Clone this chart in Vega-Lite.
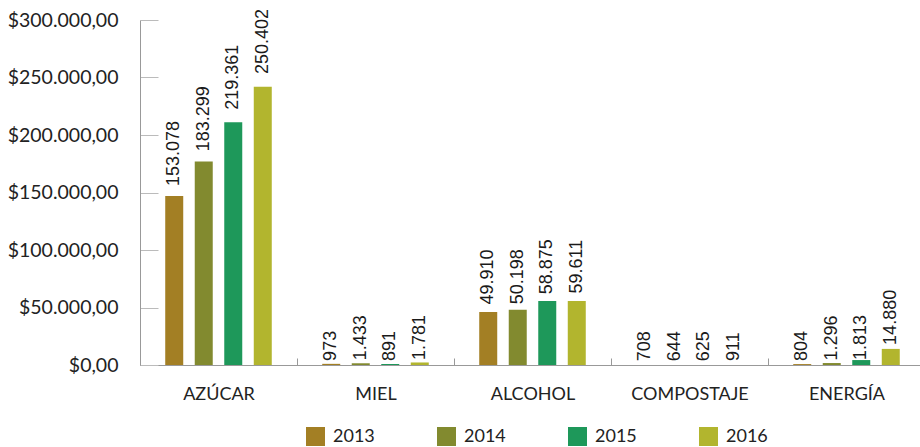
{
  "$schema": "https://vega.github.io/schema/vega-lite/v6.json",
  "width": 785,
  "height": 345,
  "autosize": {"type": "none"},
  "padding": {"left": 140, "top": 20, "right": 0, "bottom": 82},
  "background": "white",
  "config": {
    "locale": {"number": {"decimal": ",", "thousands": ".", "grouping": [3], "currency": ["$", ""]}},
    "view": {"stroke": null}
  },
  "data": {"values": [
    {"cat": "AZÚCAR", "year": "2013", "value": 147000, "label": 153078},
    {"cat": "AZÚCAR", "year": "2014", "value": 177000, "label": 183299},
    {"cat": "AZÚCAR", "year": "2015", "value": 211000, "label": 219361},
    {"cat": "AZÚCAR", "year": "2016", "value": 242000, "label": 250402},
    {"cat": "MIEL", "year": "2013", "value": 1000, "label": 973},
    {"cat": "MIEL", "year": "2014", "value": 1500, "label": 1433},
    {"cat": "MIEL", "year": "2015", "value": 900, "label": 891},
    {"cat": "MIEL", "year": "2016", "value": 2200, "label": 1781},
    {"cat": "ALCOHOL", "year": "2013", "value": 46000, "label": 49910},
    {"cat": "ALCOHOL", "year": "2014", "value": 48000, "label": 50198},
    {"cat": "ALCOHOL", "year": "2015", "value": 55600, "label": 58875},
    {"cat": "ALCOHOL", "year": "2016", "value": 55600, "label": 59611},
    {"cat": "COMPOSTAJE", "year": "2013", "value": 0, "label": 708},
    {"cat": "COMPOSTAJE", "year": "2014", "value": 0, "label": 644},
    {"cat": "COMPOSTAJE", "year": "2015", "value": 0, "label": 625},
    {"cat": "COMPOSTAJE", "year": "2016", "value": 0, "label": 911},
    {"cat": "ENERGÍA", "year": "2013", "value": 800, "label": 804},
    {"cat": "ENERGÍA", "year": "2014", "value": 1700, "label": 1296},
    {"cat": "ENERGÍA", "year": "2015", "value": 4300, "label": 1813},
    {"cat": "ENERGÍA", "year": "2016", "value": 14000, "label": 14880}
  ]},
  "encoding": {
    "x": {
      "field": "cat", "type": "nominal",
      "sort": ["AZÚCAR", "MIEL", "ALCOHOL", "COMPOSTAJE", "ENERGÍA"],
      "scale": {"paddingInner": 0, "paddingOuter": 0},
      "axis": {
        "title": null, "labelAngle": 0, "labelFont": "Lato", "labelFontSize": 18,
        "labelColor": "#222", "tickBand": "extent", "tickSize": -7,
        "tickColor": "#999", "domainColor": "#999", "labelPadding": 27
      }
    },
    "xOffset": {"field": "year", "type": "nominal", "scale": {"paddingInner": 0.39, "paddingOuter": 0.855}}
  },
  "layer": [
    {
      "mark": {"type": "bar"},
      "encoding": {
        "y": {
          "field": "value", "type": "quantitative",
          "scale": {"domain": [0, 300000]},
          "axis": {
            "title": null, "format": "$,.2f",
            "values": [0, 50000, 100000, 150000, 200000, 250000, 300000],
            "labelFont": "Lato", "labelFontSize": 19.5, "labelColor": "#222",
            "grid": false, "tickSize": -18, "tickColor": "#bbb",
            "domainColor": "#999", "labelPadding": 40
          }
        },
        "color": {
          "field": "year", "type": "nominal",
          "scale": {"domain": ["2013", "2014", "2015", "2016"], "range": ["#A37F24", "#828A2F", "#1E985A", "#B2B52E"]},
          "legend": {
            "title": null, "orient": "none", "legendX": 166, "legendY": 407,
            "direction": "horizontal", "symbolType": "square", "symbolSize": 361,
            "symbolStrokeWidth": 0, "labelFont": "Lato", "labelFontSize": 18,
            "labelColor": "#222", "columnPadding": 62, "labelOffset": 8
          }
        }
      }
    },
    {
      "mark": {"type": "text", "angle": 270, "align": "left", "baseline": "middle", "dx": 3, "font": "Liberation Sans", "fontSize": 18, "color": "#1a1a1a"},
      "encoding": {
        "y": {"field": "label", "type": "quantitative"},
        "text": {"field": "label", "type": "quantitative", "format": ",.0f"}
      }
    }
  ]
}
